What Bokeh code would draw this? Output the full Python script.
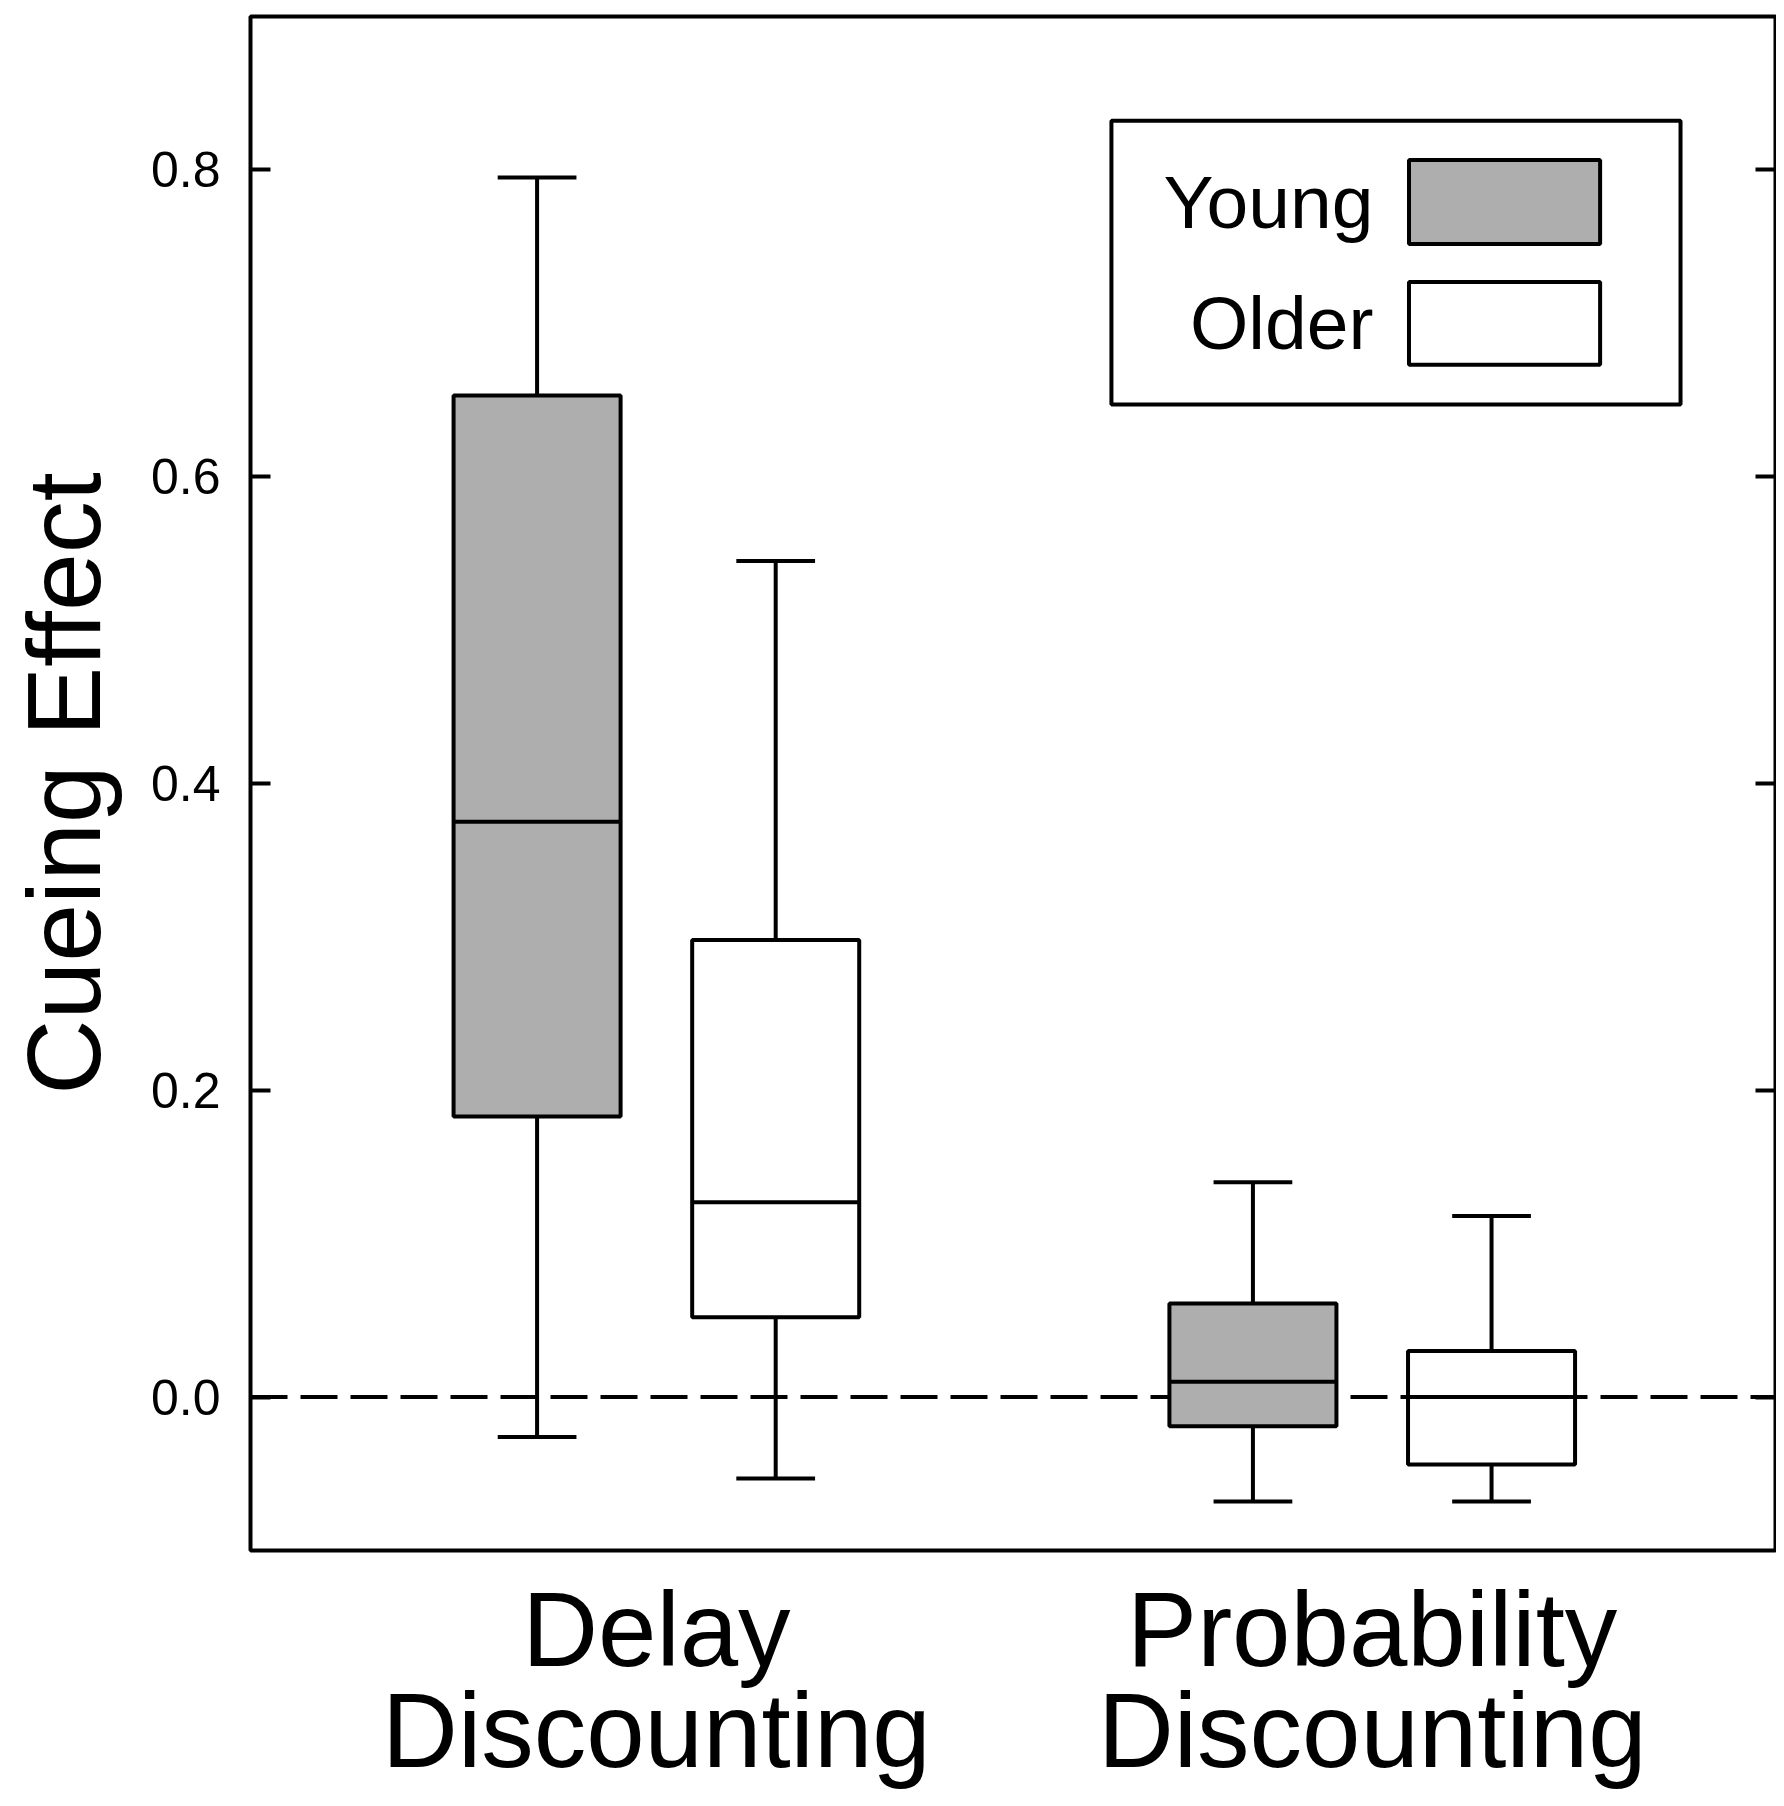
import numpy as np
from bokeh.plotting import figure
from bokeh.models import FixedTicker, LinearAxis, Span, PrintfTickFormatter, CustomJSTickFormatter
from bokeh.core.properties import value
from bokeh.embed import file_html
from bokeh.resources import INLINE

# ---------------- data ----------------
tasks = ["Delay\nDiscounting", "Probability\nDiscounting"]
groups = ["Young", "Older"]
group_fills = ["#AEAEAE", "#FFFFFF"]
# order: Delay-Young, Delay-Older, Probability-Young, Probability-Older
whisker_low = [-0.026, -0.053, -0.068, -0.068]
q1 = [0.183, 0.052, -0.019, -0.044]
median = [0.375, 0.127, 0.010, 0.000]
q3 = [0.653, 0.298, 0.061, 0.030]
whisker_high = [0.795, 0.545, 0.140, 0.118]
y_ticks = [0.0, 0.2, 0.4, 0.6, 0.8]
y_label = "Cueing Effect"

# ---------------- layout / style ----------------
FONT = "Liberation Sans"
task_pos = [1, 4]
offset = 0.5
box_w = 0.7
cap_w = 0.33
LW = 4

xs, fills = [], []
for t in task_pos:
    for gi, f in enumerate(group_fills):
        xs.append(t + (2 * gi - 1) * offset)
        fills.append(f)
xs = np.array(xs, dtype=float)

p = figure(width=1776, height=1798, x_range=(-0.701, 5.690), y_range=(-0.1, 0.9),
           output_backend="svg", toolbar_location=None,
           min_border_left=250, min_border_right=1, min_border_top=16, min_border_bottom=248)
p.xgrid.visible = False
p.ygrid.visible = False
p.outline_line_color = "black"
p.outline_line_width = LW
p.background_fill_color = "white"
p.border_fill_color = "white"

# y axis (left)
ya = p.yaxis[0]
ya.ticker = FixedTicker(ticks=y_ticks)
ya.formatter = PrintfTickFormatter(format="%.1f")
ya.major_tick_in = 20
ya.major_tick_out = 0
ya.minor_tick_line_color = None
ya.axis_line_color = None
ya.major_tick_line_width = LW
ya.major_label_text_font = FONT
ya.major_label_text_font_size = "50px"
ya.major_label_text_color = "black"
ya.major_label_standoff = 30
ya.axis_label = y_label
ya.axis_label_text_font = FONT
ya.axis_label_text_font_size = "104px"
ya.axis_label_text_font_style = "normal"
ya.axis_label_text_color = "black"
ya.axis_label_text_baseline = "top"
ya.axis_label_standoff = 26

# y axis (right, ticks only)
ra = LinearAxis(ticker=FixedTicker(ticks=y_ticks), formatter=CustomJSTickFormatter(code="return ''"),
                major_label_standoff=0, major_tick_in=20, major_tick_out=0,
                minor_tick_line_color=None, axis_line_color=None, major_tick_line_width=LW)
p.add_layout(ra, "right")

# x axis
xa = p.xaxis[0]
xa.ticker = FixedTicker(ticks=task_pos)
xa.major_label_overrides = {task_pos[i]: tasks[i] for i in range(len(tasks))}
xa.major_tick_line_color = None
xa.major_tick_in = 0
xa.major_tick_out = 0
xa.minor_tick_line_color = None
xa.axis_line_color = None
xa.major_label_text_font = FONT
xa.major_label_text_font_size = "105px"
xa.major_label_text_color = "black"
xa.major_label_text_line_height = 0.87
xa.major_label_standoff = 20

# zero reference line
p.add_layout(Span(location=0, dimension="width", line_dash="37 13", line_width=LW,
                  line_color="black", level="underlay"))

# whiskers
p.segment(x0=xs, y0=q3, x1=xs, y1=whisker_high, line_color="black", line_width=LW)
p.segment(x0=xs, y0=whisker_low, x1=xs, y1=q1, line_color="black", line_width=LW)
p.segment(x0=xs - cap_w / 2, y0=whisker_high, x1=xs + cap_w / 2, y1=whisker_high,
          line_color="black", line_width=LW)
p.segment(x0=xs - cap_w / 2, y0=whisker_low, x1=xs + cap_w / 2, y1=whisker_low,
          line_color="black", line_width=LW)
# boxes
p.vbar(x=xs, width=box_w, bottom=q1, top=q3, fill_color=fills, line_color="black", line_width=LW)
# medians
p.segment(x0=xs - box_w / 2, y0=median, x1=xs + box_w / 2, y1=median,
          line_color="black", line_width=LW)

# legend (manual: label on the left of the swatch)
LEG_L, LEG_R, LEG_B, LEG_T = 2.907, 5.292, 0.647, 0.832
SW_L, SW_R = 4.154, 4.955
SW_B = [0.7517, 0.673]
SW_T = [0.8065, 0.727]
TXT_X = 4.005
TXT_Y = [0.779, 0.700]
p.quad(left=[LEG_L], right=[LEG_R], bottom=[LEG_B], top=[LEG_T], fill_color="white",
       line_color="black", line_width=LW)
p.quad(left=[SW_L] * 2, right=[SW_R] * 2, bottom=SW_B, top=SW_T, fill_color=group_fills,
       line_color="black", line_width=LW)
p.text(x=[TXT_X] * 2, y=TXT_Y, text=groups, text_font=value(FONT), text_font_size="75px",
       text_align="right", text_baseline="middle", text_color="black")

open("out.html", "w").write(file_html(p, INLINE))
